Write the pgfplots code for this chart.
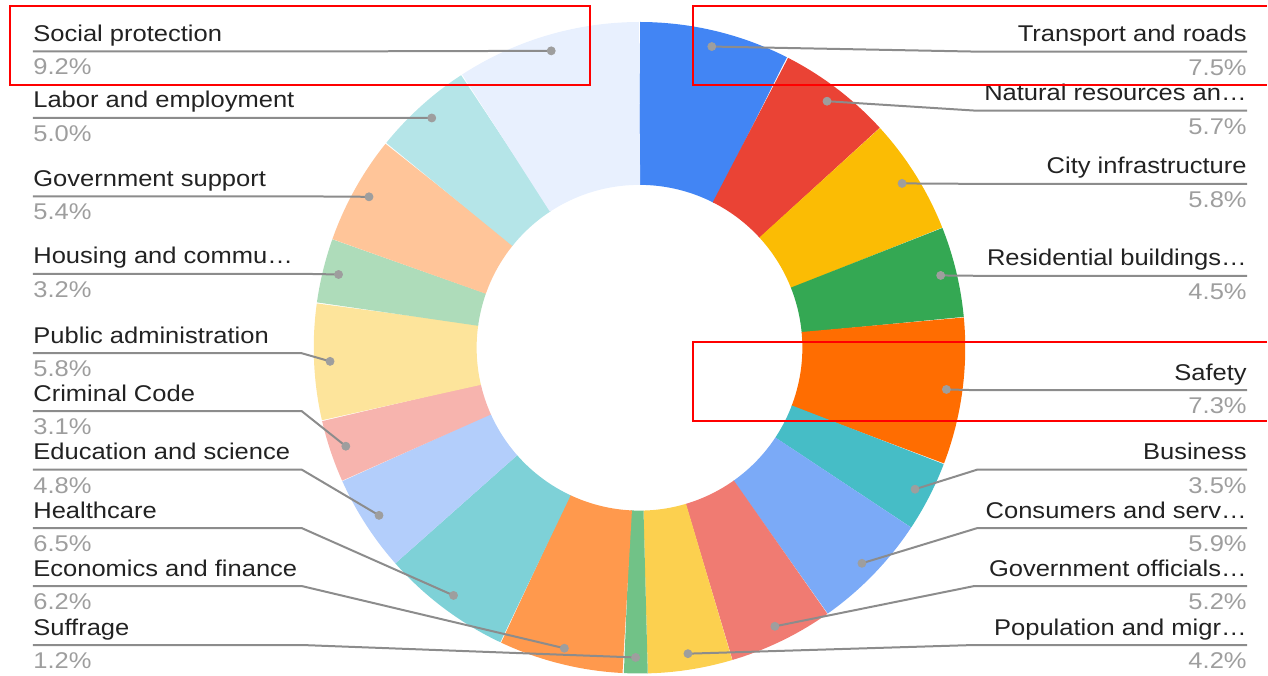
\documentclass[border=0pt]{standalone}
\usepackage{fontspec}
\setmainfont{Liberation Sans}[FakeStretch=1.12]
\usepackage{pgfplots}
\usepackage{pgfplotstable}
\pgfplotsset{compat=1.18}

% slice colours, clockwise from 12 o'clock
\definecolor{slice0}{HTML}{4285F4}
\definecolor{slice1}{HTML}{EA4335}
\definecolor{slice2}{HTML}{FBBC04}
\definecolor{slice3}{HTML}{34A853}
\definecolor{slice4}{HTML}{FF6D01}
\definecolor{slice5}{HTML}{46BDC6}
\definecolor{slice6}{HTML}{7BAAF7}
\definecolor{slice7}{HTML}{F07B72}
\definecolor{slice8}{HTML}{FCD04F}
\definecolor{slice9}{HTML}{71C287}
\definecolor{slice10}{HTML}{FF994D}
\definecolor{slice11}{HTML}{7ED1D7}
\definecolor{slice12}{HTML}{B3CEFB}
\definecolor{slice13}{HTML}{F7B4AE}
\definecolor{slice14}{HTML}{FDE49B}
\definecolor{slice15}{HTML}{AEDCBA}
\definecolor{slice16}{HTML}{FFC599}
\definecolor{slice17}{HTML}{B5E5E8}
\definecolor{slice18}{HTML}{E8F0FE}
\definecolor{leadergray}{HTML}{8C8C8C}
\definecolor{dotgray}{HTML}{9E9E9E}
\definecolor{pctgray}{HTML}{9E9E9E}
\definecolor{labelblack}{HTML}{222222}

% share of each topic (percent), label side (-1 left, 1 right),
% y of the label's underline and x where the leader line bends
\pgfplotstableread[col sep=comma]{
name,value,side,liney,bendx
Transport and roads,7.5,1,51.7,980
Natural resources an…,5.7,1,110.7,976
City infrastructure,5.8,1,184,978
Residential buildings…,4.5,1,276,978
Safety,7.3,1,390.5,978
Business,3.5,1,470,978
Consumers and serv…,5.9,1,528.5,978
Government officials…,5.2,1,586.5,975
Population and migr…,4.2,1,645.5,975
Suffrage,1.2,-1,645.5,302
Economics and finance,6.2,-1,586.5,302
Healthcare,6.5,-1,528.5,302
Education and science,4.8,-1,470,302
Criminal Code,3.1,-1,411.5,302
Public administration,5.8,-1,353.5,302
Housing and commu…,3.2,-1,274,302
Government support,5.4,-1,196.5,302
Labor and employment,5.0,-1,118,302
Social protection,9.2,-1,51.5,302
}\slices

% donut geometry (axis units = pixels, y pointing down)
\def\cx{640}\def\cy{348}

% cumulative angles, label anchors and dot positions for every slice
\newcommand\cumsum{0}
\pgfplotsforeachungrouped \i in {0,...,18}{%
  \pgfplotstablegetelem{\i}{value}\of\slices \let\slval\pgfplotsretval
  \expandafter\xdef\csname pc\i\endcsname{\slval}%
  \pgfplotstablegetelem{\i}{name}\of\slices
  \expandafter\xdef\csname nm\i\endcsname{\pgfplotsretval}%
  \pgfmathsetmacro\angS{\cumsum*3.6}%
  \pgfmathsetmacro\cumsum{\cumsum+\slval}%
  \pgfmathsetmacro\angE{\cumsum*3.6}%
  \pgfmathsetmacro\angM{(\angS+\angE)/2}%
  \pgfmathsetmacro\dotx{\cx+310*sin(\angM)}%
  \pgfmathsetmacro\doty{\cy-310*cos(\angM)}%
  \expandafter\xdef\csname aS\i\endcsname{\angS}%
  \expandafter\xdef\csname aE\i\endcsname{\angE}%
  \expandafter\xdef\csname dx\i\endcsname{\dotx}%
  \expandafter\xdef\csname dy\i\endcsname{\doty}%
  \pgfplotstablegetelem{\i}{liney}\of\slices \let\ly\pgfplotsretval
  \expandafter\xdef\csname ly\i\endcsname{\ly}%
  \pgfmathsetmacro\nyv{\ly-10}\expandafter\xdef\csname ny\i\endcsname{\nyv}%
  \pgfmathsetmacro\pyv{\ly+23.5}\expandafter\xdef\csname py\i\endcsname{\pyv}%
  \pgfplotstablegetelem{\i}{bendx}\of\slices
  \expandafter\xdef\csname bx\i\endcsname{\pgfplotsretval}%
  \pgfplotstablegetelem{\i}{side}\of\slices
  \ifnum\pgfplotsretval<0
    \expandafter\xdef\csname tx\i\endcsname{33}%
    \expandafter\xdef\csname an\i\endcsname{base west}%
  \else
    \expandafter\xdef\csname tx\i\endcsname{1248}%
    \expandafter\xdef\csname an\i\endcsname{base east}%
  \fi
}

\tikzset{
  lbl/.style={font=\fontsize{11.4pt}{13pt}\selectfont, inner sep=0pt, text=labelblack},
  pct/.style={font=\fontsize{11.4pt}{13pt}\selectfont, inner sep=0pt, text=pctgray},
}

\begin{document}
\begin{tikzpicture}
\begin{axis}[
  width=634pt, height=338pt, scale only axis,
  xmin=0, xmax=1268, ymin=0, ymax=676, y dir=reverse,
  hide axis, clip=false,
]
\path (axis cs:0,0) rectangle (axis cs:1268,676);

% donut slices: a thick arc on the mid radius spanning the ring
\pgfplotsinvokeforeach{0,...,18}{%
  \edef\temp{\noexpand\addplot[color=slice#1, line width=81.5pt, line join=round,
      samples=40, domain=\csname aS#1\endcsname:\csname aE#1\endcsname]
    ({\cx+244.5*sin(x)},{\cy-244.5*cos(x)});}%
  \temp
}

% leader lines from the labels to the slices
\pgfplotsinvokeforeach{0,...,18}{%
  \edef\temp{\noexpand\addplot[color=leadergray, line width=1pt]
    coordinates {(\csname tx#1\endcsname,\csname ly#1\endcsname)
                 (\csname bx#1\endcsname,\csname ly#1\endcsname)
                 (\csname dx#1\endcsname,\csname dy#1\endcsname)};}%
  \temp
}

% anchor dots inside the slices
\pgfplotsinvokeforeach{0,...,18}{%
  \edef\temp{\noexpand\addplot[only marks, mark=*, mark size=2pt, color=dotgray]
    coordinates {(\csname dx#1\endcsname,\csname dy#1\endcsname)};}%
  \temp
}

% topic names and shares
\pgfplotsinvokeforeach{0,...,18}{%
  \node[lbl, anchor=\csname an#1\endcsname]
    at (axis cs:\csname tx#1\endcsname,\csname ny#1\endcsname) {\csname nm#1\endcsname};
  \node[pct, anchor=\csname an#1\endcsname]
    at (axis cs:\csname tx#1\endcsname,\csname py#1\endcsname) {\csname pc#1\endcsname\%};
}

% highlighted topics
\draw[red, line width=1pt] (axis cs:10,6) rectangle (axis cs:590,85);
\draw[red, line width=1pt] (axis cs:1268,6) -- (axis cs:694,6) -- (axis cs:694,85) -- (axis cs:1268,85);
\draw[red, line width=1pt] (axis cs:1268,342) -- (axis cs:694,342) -- (axis cs:694,421) -- (axis cs:1268,421);
\end{axis}
\end{tikzpicture}
\end{document}
